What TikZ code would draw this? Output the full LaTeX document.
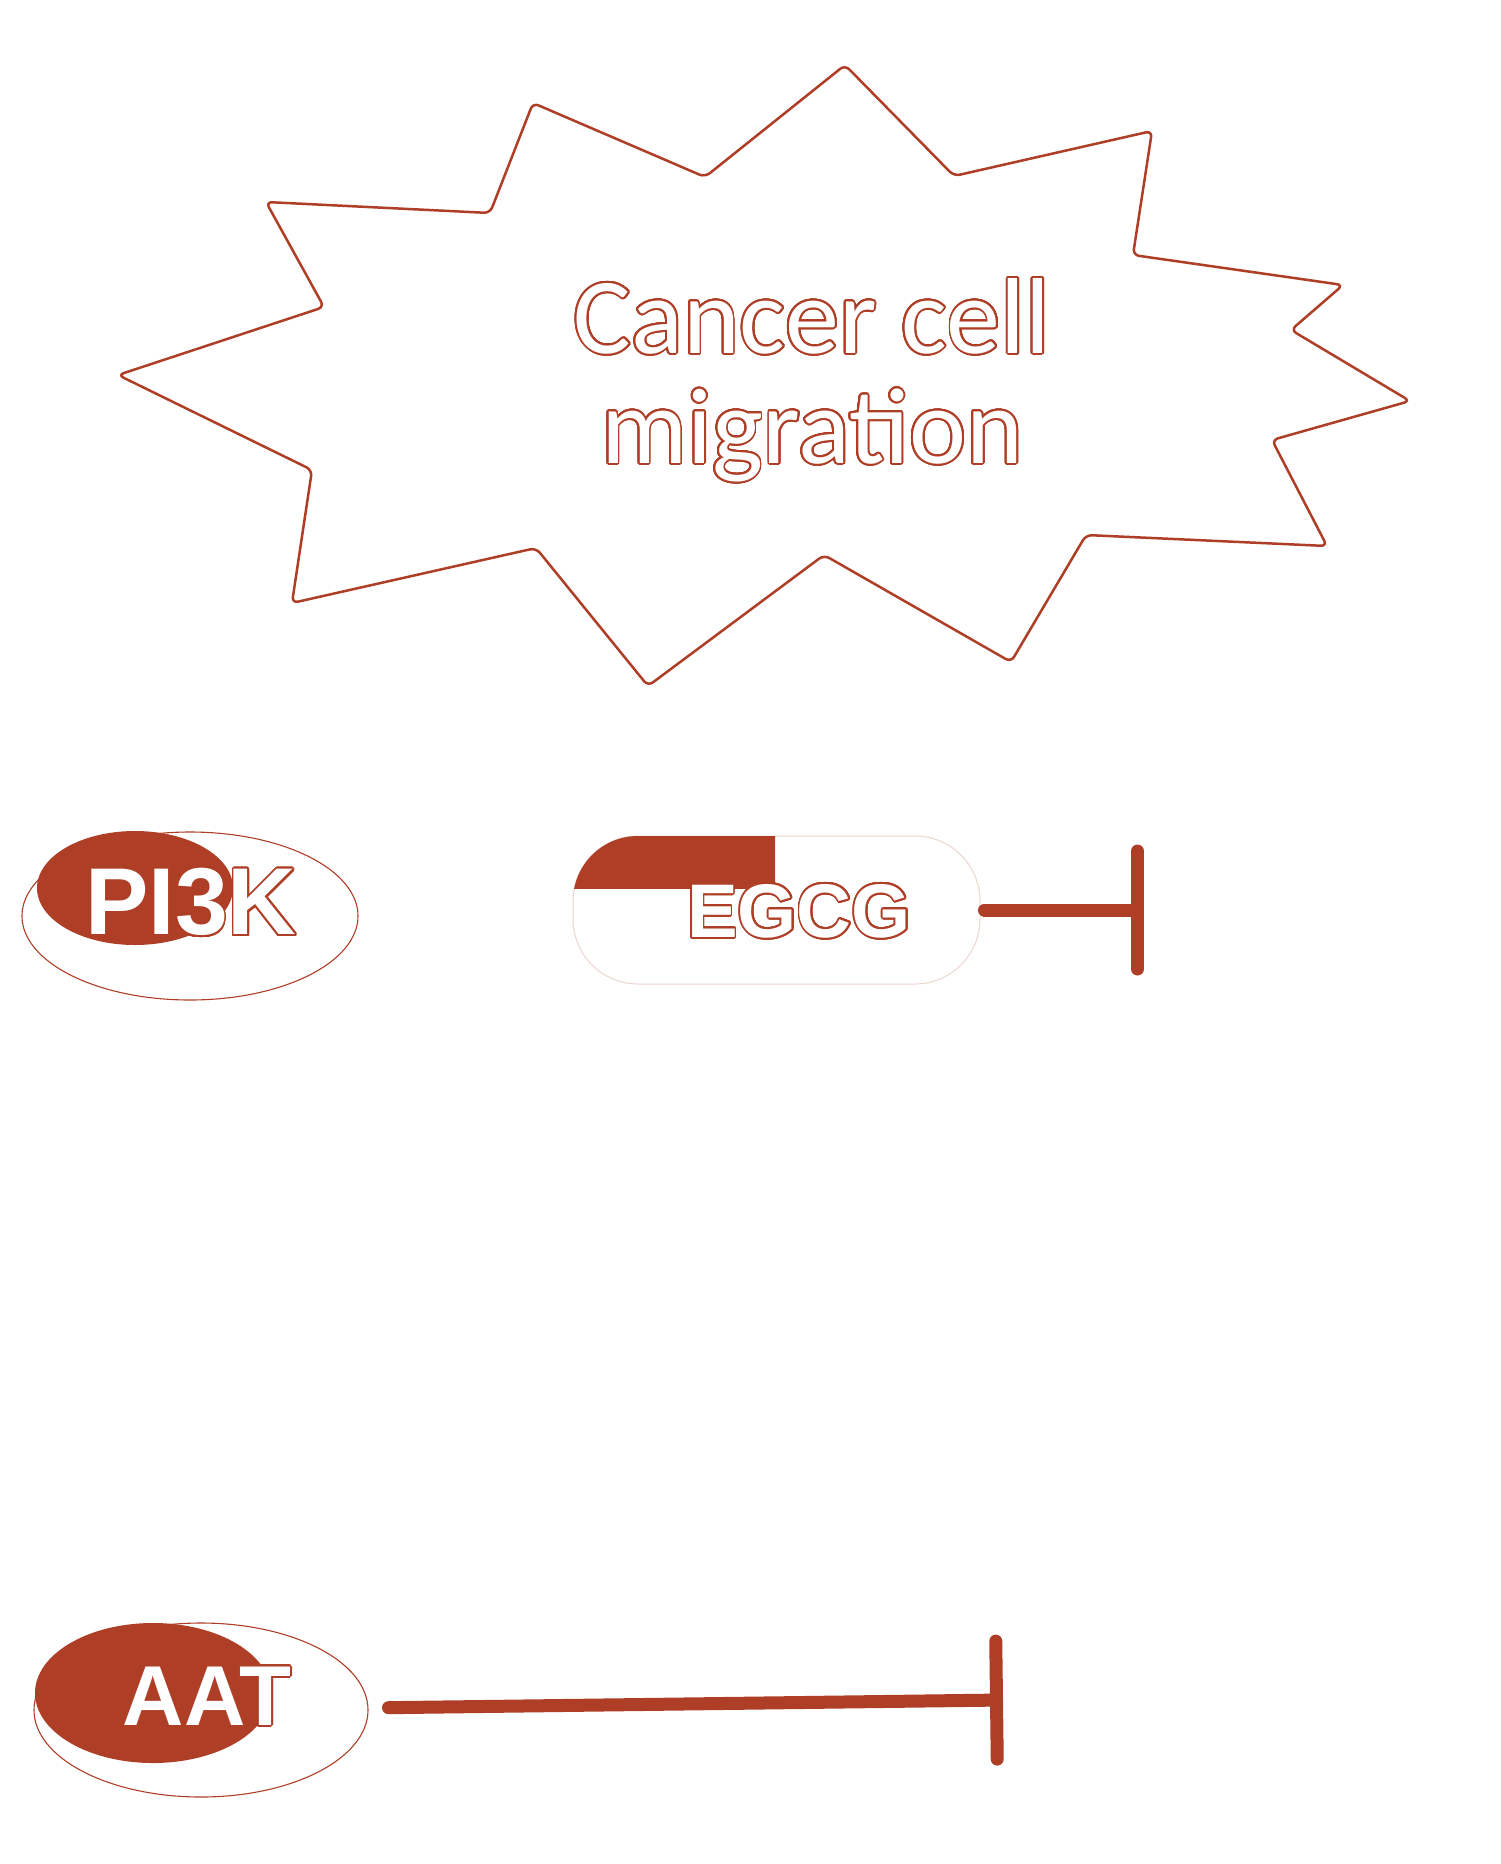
\documentclass[tikz,border=0pt]{standalone}
\usepackage{fontspec}
\usepackage{xcolor}
\usepackage[copies]{contour}
\usepackage{tikz}
\usetikzlibrary{positioning, arrows.meta, shapes.geometric}
\newfontfamily\burstfont{Carlito}
\newfontfamily\tagfont{Liberation Sans}
\definecolor{brick}{RGB}{175,62,38}
\contourlength{1.8pt}
\contournumber{32}

\begin{document}
\begin{tikzpicture}[
  x=1pt, y=-1pt,
  leaf/.style={ellipse, draw=brick, line width=1.1pt, inner sep=0pt},
  blob/.style={ellipse, fill=brick, inner sep=0pt},
  tag/.style={text=white, inner sep=0pt, font=\tagfont\bfseries\fontsize{#1}{#1}\selectfont},
  inhibit/.style={-{Bar[width=118pt, round]}, line width=13pt, draw=brick, line cap=round},
  every node/.style={inner sep=0pt}
]
\useasboundingbox (0,0) rectangle (1500,1864);

\draw[brick, line width=2.5pt, fill=white, rounded corners=6pt]
  (845,65) -- (954,176) -- (1152,131) -- (1133,255) -- (1343,285) -- (1291,330)
  -- (1410,401) -- (1272,440) -- (1327,546) -- (1086,535) -- (1011,662) -- (824,555)
  -- (648,686) -- (536,548) -- (292,603) -- (312,470) -- (118,375) -- (324,307)
  -- (266,202) -- (490,213) -- (533,103) -- (705,177) -- cycle;
\node[align=center, text=white, font=\burstfont\fontsize{108}{110}\selectfont] (migration) at (812,381) {\contour{brick}{Cancer cell}\\\contour{brick}{migration}};

\node[blob, minimum width=196pt, minimum height=114pt] (pikfill) at (135,888) {};
\node[leaf, minimum width=336pt, minimum height=168pt] (pik) at (190,916) {};
\node[tag=95] (piklabel) at (191,903) {\contour{brick}{PI3K}};

\node[draw=brick!22, line width=1pt, rounded corners=65pt, minimum width=407pt, minimum height=148pt] (egcg) at (776.5,910) {};
\begin{scope}
  \clip (573,836) rectangle (775,888);
  \fill[brick, rounded corners=65pt] (573,836) rectangle (980,984);
\end{scope}
\node[tag=76] (egcglabel) at (799,912) {\contour{brick}{EGCG}};
\coordinate (egcgend) at (1144,910);

\node[blob, minimum width=236pt, minimum height=140pt] (aatfill) at (153,1693) {};
\node[leaf, minimum width=334pt, minimum height=174pt] (aat) at (201,1710) {};
\node[tag=85] (aatlabel) at (207,1697) {\contour{brick}{AAT}};
\coordinate (aatend) at (1003,1700);

\draw[inhibit, shorten <=4pt] (egcg) -- (egcgend);
\draw[inhibit, shorten <=20pt] (aat) -- (aatend);
\end{tikzpicture}
\end{document}
